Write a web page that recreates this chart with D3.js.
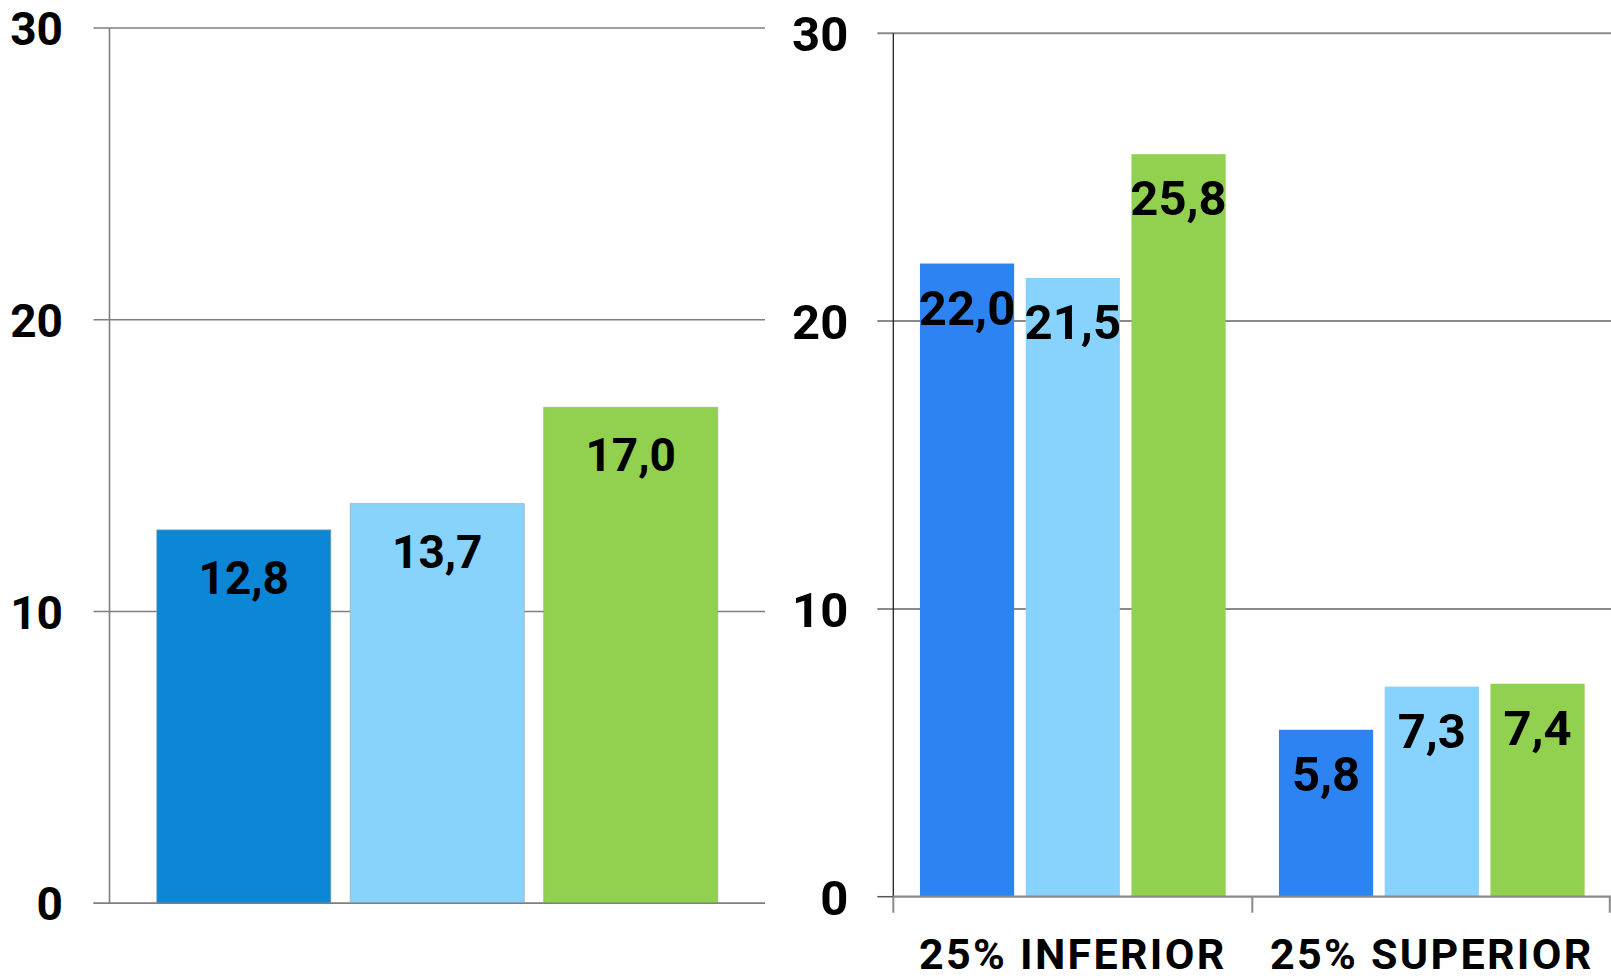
<!DOCTYPE html>
<html>
<head>
<meta charset="utf-8">
<script src="https://cdn.jsdelivr.net/npm/d3@7"></script>
<style>
  html, body { margin: 0; padding: 0; background: #fff; }
  svg { display: block; }
  text { font-family: Roboto, "Liberation Sans", sans-serif; font-weight: 700; fill: #000; }
</style>
</head>
<body>
<svg id="chart" width="1611" height="980"></svg>
<script>
// ---------- DATA ----------
const yTicks = [0, 10, 20, 30];
const seriesNames = ["Serie 1", "Serie 2", "Serie 3"];

// Left chart: one group of three bars
const leftValues = [12.8, 13.7, 17.0];
const leftColors = ["#0c87d6", "#87d3fb", "#92d050"];

// Right chart: two categories, three series
const rightCategories = ["25% INFERIOR", "25% SUPERIOR"];
const rightSerie1 = [22.0, 5.8];
const rightSerie2 = [21.5, 7.3];
const rightSerie3 = [25.8, 7.4];
const rightColors = ["#2e83f3", "#87d3fd", "#92d050"];

const fmt = v => d3.format(".1f")(v).replace(".", ",");

const svg = d3.select("#chart");
svg.append("rect").attr("width", 1611).attr("height", 980).attr("fill", "#fff");

// ---------- LEFT CHART ----------
{
  const x0 = 109.5, x1 = 765, yBottom = 903.3, yTop = 28;
  const y = d3.scaleLinear().domain([0, 30]).range([yBottom, yTop]);
  const x = d3.scaleBand().domain(seriesNames).range([x0, x1])
    .paddingInner(0.1).paddingOuter(0.244);
  const g = svg.append("g");

  g.selectAll("line.grid").data(yTicks).join("line")
    .attr("x1", x0 - 16).attr("x2", x1)
    .attr("y1", d => y(d)).attr("y2", d => y(d))
    .attr("stroke", "#7f7f7f").attr("stroke-width", 1.6);

  g.append("line").attr("x1", x0).attr("x2", x0)
    .attr("y1", y(30)).attr("y2", y(0))
    .attr("stroke", "#7f7f7f").attr("stroke-width", 1.6);

  const ax = g.append("g").attr("transform", `translate(${x0 - 46.5},0)`)
    .call(d3.axisLeft(y).tickValues(yTicks).tickSize(0).tickPadding(0).tickFormat(d3.format("d")));
  ax.select(".domain").remove();
  ax.selectAll("text").attr("font-size", 46).attr("font-family", "Roboto").attr("font-weight", 700)
    .attr("fill", "#000").attr("dy", "0.36em");

  g.selectAll("rect.bar").data(leftValues).join("rect")
    .attr("x", (d, i) => x(seriesNames[i]))
    .attr("width", x.bandwidth())
    .attr("y", d => y(d))
    .attr("height", d => y(0) - y(d))
    .attr("fill", (d, i) => leftColors[i])
    .attr("stroke", "#9aa39a").attr("stroke-width", 1).attr("stroke-opacity", 0.6);

  g.append("line").attr("x1", x0 - 16).attr("x2", x1)
    .attr("y1", y(0)).attr("y2", y(0))
    .attr("stroke", "#7f7f7f").attr("stroke-width", 1.6);

  g.selectAll("text.val").data(leftValues).join("text")
    .attr("x", (d, i) => x(seriesNames[i]) + x.bandwidth() / 2)
    .attr("y", d => y(d) + 64)
    .attr("text-anchor", "middle")
    .attr("font-size", 46)
    .text(d => fmt(d));
}

// ---------- RIGHT CHART ----------
{
  const x0 = 893.3, x1 = 1611.3, yBottom = 896.7, yTop = 33.3;
  const y = d3.scaleLinear().domain([0, 30]).range([yBottom, yTop]);
  const xc = d3.scaleBand().domain(rightCategories).range([x0, x1]).padding(0);
  const xs = d3.scaleBand().domain(seriesNames).range([0, xc.bandwidth()])
    .paddingInner(0.109).paddingOuter(0.252);
  const seriesVals = [rightSerie1, rightSerie2, rightSerie3];
  const g = svg.append("g");

  g.selectAll("line.grid").data(yTicks.filter(d => d > 0)).join("line")
    .attr("x1", x0 - 16).attr("x2", 1611)
    .attr("y1", d => y(d)).attr("y2", d => y(d))
    .attr("stroke", "#8a8a8a").attr("stroke-width", 2);
  g.append("line").attr("x1", x0 - 16).attr("x2", x0)
    .attr("y1", y(0)).attr("y2", y(0))
    .attr("stroke", "#555").attr("stroke-width", 1.5);

  g.append("line").attr("x1", x0).attr("x2", x0)
    .attr("y1", y(30)).attr("y2", y(0))
    .attr("stroke", "#222").attr("stroke-width", 1.3);

  const ax = g.append("g").attr("transform", `translate(${x0 - 45},0)`)
    .call(d3.axisLeft(y).tickValues(yTicks).tickSize(0).tickPadding(0).tickFormat(d3.format("d")));
  ax.select(".domain").remove();
  ax.selectAll("text").attr("font-size", 49).attr("font-family", "Roboto").attr("font-weight", 700)
    .attr("fill", "#000").attr("dy", "0.36em");

  const data = [];
  rightCategories.forEach((c, ci) => seriesNames.forEach((s, si) =>
    data.push({ c, s, si, v: seriesVals[si][ci] })));

  g.selectAll("rect.bar").data(data).join("rect")
    .attr("x", d => xc(d.c) + xs(d.s))
    .attr("width", xs.bandwidth())
    .attr("y", d => y(d.v))
    .attr("height", d => y(0) - y(d.v))
    .attr("fill", d => rightColors[d.si]);

  g.append("line").attr("x1", x0).attr("x2", 1611)
    .attr("y1", y(0)).attr("y2", y(0))
    .attr("stroke", "#8a8a8a").attr("stroke-width", 2.2);
  const bounds = rightCategories.map(c => xc(c)).concat([x1 - 1.5]);
  g.selectAll("line.ctick").data(bounds).join("line")
    .attr("x1", d => d).attr("x2", d => d)
    .attr("y1", y(0)).attr("y2", y(0) + 16)
    .attr("stroke", "#8a8a8a").attr("stroke-width", 2);

  g.selectAll("text.cat").data(rightCategories).join("text")
    .attr("x", d => xc(d) + xc.bandwidth() / 2)
    .attr("y", 969)
    .attr("text-anchor", "middle")
    .attr("font-size", 43)
    .attr("letter-spacing", 2.3)
    .text(d => d);

  g.selectAll("text.val").data(data).join("text")
    .attr("x", d => xc(d.c) + xs(d.s) + xs.bandwidth() / 2)
    .attr("y", d => y(d.v) + 61)
    .attr("text-anchor", "middle")
    .attr("font-size", 49)
    .text(d => fmt(d.v));
}
</script>
</body>
</html>
